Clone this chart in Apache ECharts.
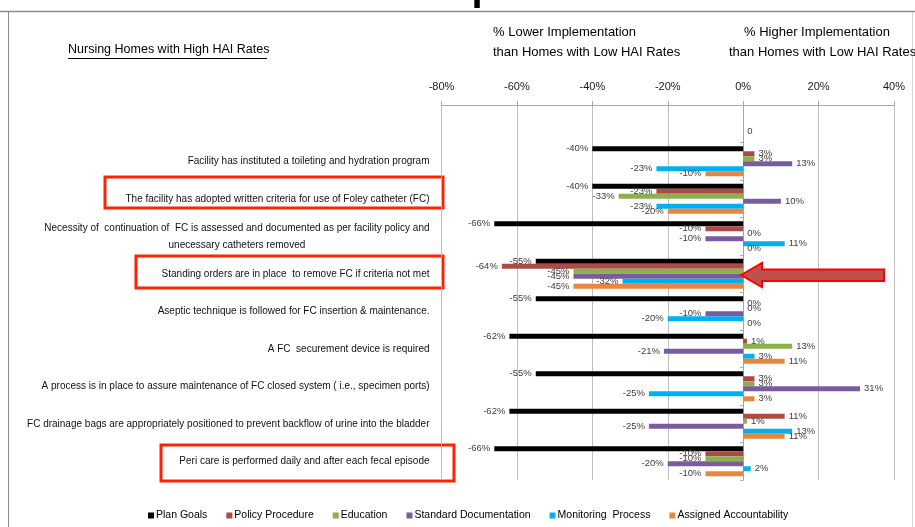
<!DOCTYPE html>
<html>
<head>
<meta charset="utf-8">
<script src="https://cdn.jsdelivr.net/npm/echarts@6/dist/echarts.min.js"></script>
<style>
  html, body { margin: 0; padding: 0; background: #ffffff; }
  #chart { width: 915px; height: 527px; }
</style>
</head>
<body>
<div id="chart"></div>
<script>
// Practice items, top to bottom (first row is the blank header row)
const categories = [
  '',
  'Facility has instituted a toileting and hydration program',
  'The facility has adopted written criteria for use of Foley catheter (FC)',
  'Necessity of  continuation of  FC is assessed and documented as per facility policy and\nunecessary catheters removed',
  'Standing orders are in place  to remove FC if criteria not met',
  'Aseptic technique is followed for FC insertion & maintenance.',
  'A FC  securement device is required',
  'A process is in place to assure maintenance of FC closed system ( i.e., specimen ports)',
  'FC drainage bags are appropriately positioned to prevent backflow of urine into the bladder',
  'Peri care is performed daily and after each fecal episode'
];

const seriesNames = ['Plan Goals', 'Policy Procedure', 'Education', 'Standard Documentation', 'Monitoring  Process', 'Assigned Accountability'];

// % difference vs. homes with low HAI rates
const planGoals        = [null, -40, -40, -66, -55, -55, -62, -55, -62, -66];
const policyProcedure  = [null,   3, -23, -10, -64,   0,   1,   3,  11, -10];
const education        = [null,   3, -33,   0, -45,   0,  13,   3,   1, -10];
const standardDoc      = [null,  13,  10, -10, -45, -10, -21,  31, -25, -20];
const monitoring       = [   0, -23, -23,  11, -32, -20,   3, -25,  13,   2];
const accountability   = [null, -10, -20,   0, -45,   0,  11,   3,  11, -10];

const xTicks = { min: -80, max: 40, step: 20 };

const colors = ['#000000', '#B04845', '#8DB04E', '#7A5C9E', '#00B0F0', '#E8863F'];
const seriesValues = [planGoals, policyProcedure, education, standardDoc, monitoring, accountability];

const FONT = "'Liberation Sans', Arial, sans-serif";

function toItems(arr) {
  return arr.map(function (v, i) {
    if (v === null) return null;
    return {
      value: v,
      label: {
        position: v < 0 ? 'left' : 'right',
        formatter: i === 0 ? '{c}' : '{c}%'
      }
    };
  });
}

const chart = echarts.init(document.getElementById('chart'), null, { renderer: 'canvas' });

const option = {
  animation: false,
  backgroundColor: '#ffffff',
  grid: { left: 441.5, right: 21, top: 105, bottom: 47, containLabel: false, outerBoundsMode: 'none' },
  legend: {
    data: seriesNames,
    left: 143,
    top: 505,
    icon: 'rect',
    itemWidth: 6,
    itemHeight: 6,
    itemGap: 19,
    textStyle: { fontFamily: FONT, fontSize: 10.5, color: '#000000', padding: [0, 0, 0, -3] }
  },
  xAxis: {
    type: 'value',
    position: 'top',
    min: xTicks.min,
    max: xTicks.max,
    interval: xTicks.step,
    axisLine: { show: true, lineStyle: { color: '#A6A6A6', width: 1 } },
    axisTick: { show: true, length: 4, lineStyle: { color: '#A6A6A6' } },
    axisLabel: { formatter: '{value}%', margin: 13, fontFamily: FONT, fontSize: 11, color: '#1a1a1a' },
    splitLine: { show: true, lineStyle: { color: '#BFBFBF', width: 1 } }
  },
  yAxis: [
    {
      type: 'category',
      data: categories,
      inverse: true,
      axisLine: { show: false, onZero: false },
      axisTick: { show: false },
      axisLabel: {
        margin: 12,
        fontFamily: FONT,
        fontSize: 10,
        color: '#111111',
        lineHeight: 17,
        formatter: function (v) {
          const parts = v.split('\n');
          if (parts.length < 2) return v;
          return parts[0] + '\n{c|' + parts[1] + '}';
        },
        rich: { c: { align: 'center', fontFamily: FONT, fontSize: 10, color: '#111111', lineHeight: 17 } }
      }
    },
    {
      type: 'category',
      data: categories,
      inverse: true,
      position: 'left',
      axisLine: { show: true, onZero: true, lineStyle: { color: '#A6A6A6', width: 1 } },
      axisTick: { show: true, length: 3, lineStyle: { color: '#A6A6A6' } },
      axisLabel: { show: false },
      splitLine: { show: false }
    }
  ],
  series: seriesValues.map(function (vals, k) {
    return {
      name: seriesNames[k],
      type: 'bar',
      yAxisIndex: 0,
      barWidth: 5,
      barGap: '0%',
      itemStyle: { color: colors[k] },
      label: {
        show: true,
        distance: 4,
        fontFamily: FONT,
        fontSize: 9.5,
        color: '#404040'
      },
      data: toItems(vals)
    };
  }),
  graphic: [
    // slide heading, mostly above the top edge
    { type: 'text', z: 10,
      style: { x: 457, y: 9, text: 'FC Process Implementation', font: 'bold 40px ' + FONT, fill: '#000000',
               align: 'center', verticalAlign: 'bottom' } },
    // frame
    { type: 'line', z: 11, shape: { x1: 0, y1: 11.5, x2: 915, y2: 11.5 }, style: { stroke: '#8C8C8C', lineWidth: 1.5 } },
    { type: 'line', shape: { x1: 8.5, y1: 11, x2: 8.5, y2: 527 }, style: { stroke: '#8C8C8C', lineWidth: 1 } },
    { type: 'line', shape: { x1: 912.5, y1: 11, x2: 912.5, y2: 527 }, style: { stroke: '#D9D9D9', lineWidth: 1 } },
    // column headings
    { type: 'text', left: 68, top: 43, style: { text: 'Nursing Homes with High HAI Rates', font: '12.5px ' + FONT, fill: '#000000' } },
    { type: 'line', shape: { x1: 68, y1: 58.5, x2: 267, y2: 58.5 }, style: { stroke: '#000000', lineWidth: 1 } },
    { type: 'text', left: 493, top: 26, style: { text: '% Lower Implementation', font: '13px ' + FONT, fill: '#000000' } },
    { type: 'text', left: 493, top: 46, style: { text: 'than Homes with Low HAI Rates', font: '13px ' + FONT, fill: '#000000' } },
    { type: 'text', left: 744, top: 26, style: { text: '% Higher Implementation', font: '13px ' + FONT, fill: '#000000' } },
    { type: 'text', left: 729, top: 46, style: { text: 'than Homes with Low HAI Rates', font: '13px ' + FONT, fill: '#000000' } },
    // highlight boxes
    { type: 'rect', shape: { x: 105, y: 177, width: 338, height: 31 }, style: { fill: 'none', stroke: '#FF2200', lineWidth: 3 } },
    { type: 'rect', shape: { x: 136, y: 256, width: 307, height: 32 }, style: { fill: 'none', stroke: '#FF2200', lineWidth: 3 } },
    { type: 'rect', shape: { x: 161, y: 445, width: 293, height: 36 }, style: { fill: 'none', stroke: '#FF2200', lineWidth: 3 } },
    // arrow pointing at the standing-orders row
    { type: 'polygon', z: 20,
      shape: { points: [[741, 275], [762, 263], [762, 269.5], [884, 269.5], [884, 281], [762, 281], [762, 287]] },
      style: { fill: '#C0504D', stroke: '#FF0000', lineWidth: 2 } }
  ]
};

chart.setOption(option);
</script>
</body>
</html>
